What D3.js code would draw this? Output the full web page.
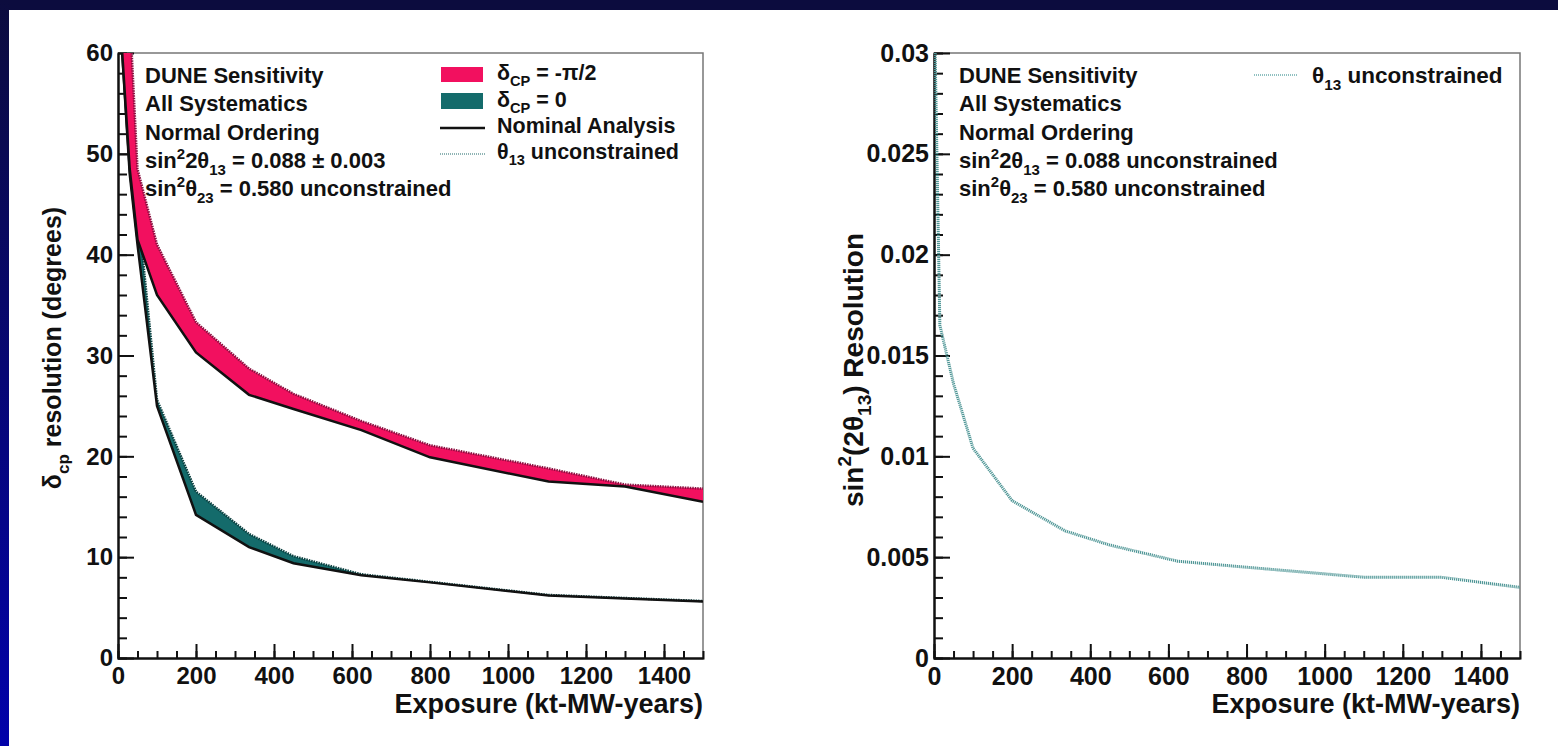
<!DOCTYPE html>
<html>
<head>
<meta charset="utf-8">
<script src="https://cdn.jsdelivr.net/npm/d3@7"></script>
<style>
  html, body { margin: 0; padding: 0; background: #fff; }
  svg { display: block; }
  text { font-family: "Liberation Sans", Arial, Helvetica, sans-serif; font-weight: bold; fill: #111; }
</style>
</head>
<body>
<div id="chart"></div>
<script>
// **** THE DATA ****

// exposure points (kt-MW-years) shared by the delta_CP curves
const exposure = [10, 30, 50, 100, 200, 336, 450, 624, 800, 1104, 1300, 1500]

// delta_CP resolution (degrees), delta_CP = -pi/2
const resHalfPiNominal = [60.5, 48.5, 41.5, 36.0, 30.3, 26.1, 24.7, 22.6, 19.9, 17.5, 17.0, 15.5]
const resHalfPiTh13Free = [90, 64, 48.5, 41.0, 33.3, 28.7, 26.2, 23.5, 21.1, 18.8, 17.2, 16.8]

// delta_CP resolution (degrees), delta_CP = 0
const resZeroNominal = [60.5, 48, 41, 25.0, 14.2, 11.0, 9.4, 8.2, 7.5, 6.2, 5.9, 5.6]
const resZeroTh13Free = [75, 60.5, 45, 25.6, 16.5, 12.3, 10.1, 8.3, 7.55, 6.25, 5.95, 5.65]

// sin^2(2 theta13) resolution, theta13 unconstrained
const th13Exposure = [3, 15, 50, 100, 200, 336, 450, 624, 800, 1104, 1300, 1500]
const th13Res = [0.0300, 0.0165, 0.0136, 0.0104, 0.0078, 0.0063, 0.0056, 0.0048, 0.0045, 0.0040, 0.0040, 0.0035]

// tick labels
const xTicks = [0, 200, 400, 600, 800, 1000, 1200, 1400]
const yTicksLeft = [0, 10, 20, 30, 40, 50, 60]
const yTicksRight = [0, 0.005, 0.01, 0.015, 0.02, 0.025, 0.03]

// **** THE SETUP ****

const width = 1558, height = 746
const plotTop = 53, plotBottom = 658
const pink = "#f2105f", teal = "#146b6b"

const svg = d3.select("#chart").append("svg")
    .attr("width", width)
    .attr("height", height)

// blue slide border
const defs = svg.append("defs")
const grad = defs.append("linearGradient")
    .attr("id", "side").attr("x1", 0).attr("y1", 0).attr("x2", 0).attr("y2", 1)
grad.append("stop").attr("offset", 0).attr("stop-color", "#0c0c3e")
grad.append("stop").attr("offset", 1).attr("stop-color", "#0202aa")
svg.append("rect").attr("width", width).attr("height", 10).attr("fill", "#0c0c3e")
svg.append("rect").attr("width", 9).attr("height", height).attr("fill", "url(#side)")

// text with super/subscripts, parts = [[text, "sup"|"sub"|undefined], ...]
function rich(t, parts, size) {
  let off = 0
  parts.forEach(([s, k]) => {
    const target = k === "sup" ? -0.42 * size : k === "sub" ? 0.3 * size : 0
    t.append("tspan")
        .attr("dy", target - off)
        .attr("font-size", k ? size * 0.68 : size)
        .text(s)
    off = target
  })
  return t
}

function panel(x0, x1, yDomain, yTicks, minorStep, fmt, labelSize, id) {
  const x = d3.scaleLinear().domain([0, 1500]).range([x0, x1])
  const y = d3.scaleLinear().domain(yDomain).range([plotBottom, plotTop])
  const g = svg.append("g")

  defs.append("clipPath").attr("id", id)
    .append("rect").attr("x", x0).attr("y", plotTop).attr("width", x1 - x0).attr("height", plotBottom - plotTop)

  // frame (top/right grey)
  g.append("path")
      .attr("d", `M${x0},${plotTop}H${x1}V${plotBottom}`)
      .attr("fill", "none").attr("stroke", "#777").attr("stroke-width", 1.5)

  // minor ticks
  g.append("g")
      .attr("transform", `translate(0,${plotBottom})`)
      .call(d3.axisBottom(x).tickValues(d3.range(50, 1500, 50)).tickSize(-7).tickFormat(""))
  g.append("g")
      .attr("transform", `translate(${x0},0)`)
      .call(d3.axisLeft(y).tickValues(d3.range(1, Math.round(yDomain[1] / minorStep)).map(i => i * minorStep)).tickSize(-9).tickFormat(""))

  // major ticks and labels
  g.append("g")
      .attr("transform", `translate(0,${plotBottom})`)
      .call(d3.axisBottom(x).tickValues(xTicks).tickSize(-14).tickSizeOuter(0).tickPadding(9).tickFormat(d3.format("d")))
  g.append("g")
      .attr("transform", `translate(${x0},0)`)
      .call(d3.axisLeft(y).tickValues(yTicks).tickSize(-16).tickSizeOuter(0).tickPadding(5).tickFormat(fmt))

  g.selectAll(".domain, .tick line").attr("stroke", "#111").attr("stroke-width", 2)
  g.selectAll(".tick text")
      .attr("font-family", "Liberation Sans, Arial, sans-serif")
      .attr("font-size", labelSize).attr("font-weight", "bold").attr("fill", "#111")

  // x axis title
  g.append("text")
      .attr("x", x1).attr("y", 713)
      .attr("text-anchor", "end").attr("font-size", 27)
      .text("Exposure (kt-MW-years)")

  return { x, y, g }
}

// **** LEFT PANEL ****

const L = panel(118, 703, [0, 60], yTicksLeft, 2, d3.format("d"), 24, "clipL")

const rows = exposure.map((e, i) => ({
  e, hn: resHalfPiNominal[i], hf: resHalfPiTh13Free[i], zn: resZeroNominal[i], zf: resZeroTh13Free[i]
}))

const plotL = L.g.append("g").attr("clip-path", "url(#clipL)")

function band(lo, hi, fill, edge) {
  plotL.append("path")
      .datum(rows)
      .attr("fill", fill)
      .attr("d", d3.area().x(d => L.x(d.e)).y0(d => L.y(d[lo])).y1(d => L.y(d[hi])))
  plotL.append("path")
      .datum(rows)
      .attr("fill", "none").attr("stroke", edge).attr("stroke-width", 2.5)
      .attr("stroke-dasharray", "1.5,1")
      .attr("d", d3.line().x(d => L.x(d.e)).y(d => L.y(d[hi])))
  plotL.append("path")
      .datum(rows)
      .attr("fill", "none").attr("stroke", "#111").attr("stroke-width", 2.5)
      .attr("d", d3.line().x(d => L.x(d.e)).y(d => L.y(d[lo])))
}
band("zn", "zf", teal, "#0c4040")
band("hn", "hf", pink, "#8a1040")

// annotation text
const noteL = [
  [["DUNE Sensitivity"]],
  [["All Systematics"]],
  [["Normal Ordering"]],
  [["sin"], ["2", "sup"], ["2θ"], ["13", "sub"], [" = 0.088 "], ["±"], [" 0.003"]],
  [["sin"], ["2", "sup"], ["θ"], ["23", "sub"], [" = 0.580 unconstrained"]]
]
noteL.forEach((parts, i) => {
  rich(L.g.append("text").attr("x", 145).attr("y", 83 + i * 28.3), parts, 22)
})

// legend
const legX = 441, legT = 497
L.g.append("rect").attr("x", legX).attr("y", 67).attr("width", 42).attr("height", 15).attr("fill", pink)
L.g.append("rect").attr("x", legX).attr("y", 93).attr("width", 42).attr("height", 16).attr("fill", teal)
L.g.append("line").attr("x1", legX - 1).attr("x2", legX + 44).attr("y1", 128).attr("y2", 128)
    .attr("stroke", "#111").attr("stroke-width", 2.5)
L.g.append("line").attr("x1", legX - 1).attr("x2", legX + 44).attr("y1", 154).attr("y2", 154)
    .attr("stroke", "#8fb4b4").attr("stroke-width", 2).attr("stroke-dasharray", "1,1")
rich(L.g.append("text").attr("x", legT).attr("y", 80), [["δ"], ["CP", "sub"], [" = -π/2"]], 21.5)
rich(L.g.append("text").attr("x", legT).attr("y", 107), [["δ"], ["CP", "sub"], [" = 0"]], 21.5)
L.g.append("text").attr("x", legT).attr("y", 133).attr("font-size", 21.5).text("Nominal Analysis")
rich(L.g.append("text").attr("x", legT).attr("y", 159), [["θ"], ["13", "sub"], [" unconstrained"]], 21.5)

// y title
rich(L.g.append("text")
    .attr("transform", "translate(61,348) rotate(-90)")
    .attr("text-anchor", "middle"), [["δ"], ["cp", "sub"], [" resolution (degrees)"]], 25)

// **** RIGHT PANEL ****

const R = panel(934, 1520, [0, 0.03], yTicksRight, 0.001, d => d === 0 ? "0" : String(+d.toFixed(3)), 25, "clipR")

R.g.append("g").attr("clip-path", "url(#clipR)")
  .append("path")
    .datum(th13Exposure.map((e, i) => [e, th13Res[i]]))
    .attr("fill", "none").attr("stroke", "#4f9696").attr("stroke-width", 3)
    .attr("stroke-dasharray", "1.2,0.8")
    .attr("d", d3.line().x(d => R.x(d[0])).y(d => R.y(d[1])))

const noteR = [
  [["DUNE Sensitivity"]],
  [["All Systematics"]],
  [["Normal Ordering"]],
  [["sin"], ["2", "sup"], ["2θ"], ["13", "sub"], [" = 0.088 unconstrained"]],
  [["sin"], ["2", "sup"], ["θ"], ["23", "sub"], [" = 0.580 unconstrained"]]
]
noteR.forEach((parts, i) => {
  rich(R.g.append("text").attr("x", 959).attr("y", 83 + i * 28.3), parts, 22)
})

R.g.append("line").attr("x1", 1254).attr("x2", 1298).attr("y1", 75).attr("y2", 75)
    .attr("stroke", "#8fc0c0").attr("stroke-width", 2).attr("stroke-dasharray", "1,1")
rich(R.g.append("text").attr("x", 1312).attr("y", 83), [["θ"], ["13", "sub"], [" unconstrained"]], 22.5)

rich(R.g.append("text")
    .attr("transform", "translate(863,370) rotate(-90)")
    .attr("text-anchor", "middle"), [["sin"], ["2", "sup"], ["(2θ"], ["13", "sub"], [") Resolution"]], 28)
</script>
</body>
</html>
